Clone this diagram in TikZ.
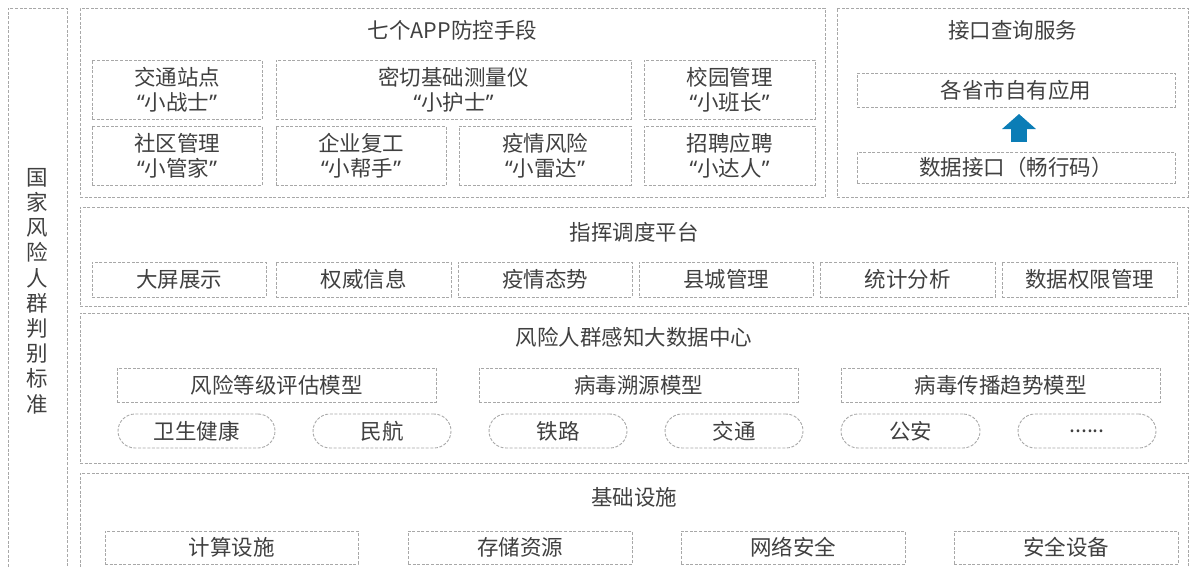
\documentclass[tikz,border=0pt]{standalone}
\usepackage{fontspec}
\setmainfont{Noto Sans CJK SC}
\newfontfamily\qf{Noto Sans}
\usetikzlibrary{arrows.meta}
\definecolor{txt}{HTML}{404040}
\definecolor{dashc}{HTML}{A8A8A8}
\definecolor{arr}{HTML}{0B7DB6}
\newcommand\q[1]{{\qf “}#1{\qf ”}}
\newcommand\mkbox[7][dbox]{\node[#1, anchor=north west, minimum width={#5pt-#3pt}, minimum height={#6pt-#4pt}] (#2) at (#3,#4) {#7};}
\tikzset{
  dbox/.style={draw=dashc, dash pattern=on 3pt off 1.6pt, line width=0.9pt, inner sep=0pt, outer sep=0pt,
    text=txt, align=center, font=\fontsize{21.5}{25}\selectfont},
  pill/.style={dbox, rounded corners=17pt},
  ttl/.style={text=txt, font=\fontsize{21.5}{25}\selectfont, inner sep=0pt},
  blockarrow/.style={draw=arr, line width=16pt, -{Triangle[width=33pt,length=15pt]}}
}
\begin{document}
\begin{tikzpicture}[x=1pt,y=-1pt]
\clip (0,0) rectangle (1191,566);
% left column
\mkbox{left}{8}{8}{67}{590}{}
\node[ttl, align=center, font=\fontsize{21.5}{25.2}\selectfont] (lefttxt) at (37.5,291) {国\\家\\风\\险\\人\\群\\判\\别\\标\\准};
% section 1
\mkbox{secA}{80}{8}{825}{197}{}
\node[ttl] (secAt) at (452.5,30) {七个APP防控手段};
\mkbox{jt}{92}{60}{262}{119}{交通站点\\\q{小战士}}
\mkbox{mq}{276}{60}{631}{119}{密切基础测量仪\\\q{小护士}}
\mkbox{xy}{644}{60}{815}{119}{校园管理\\\q{小班长}}
\mkbox{sq}{92}{126}{262}{185}{社区管理\\\q{小管家}}
\mkbox{qy}{276}{126}{446}{185}{企业复工\\\q{小帮手}}
\mkbox{yq}{459}{126}{631}{185}{疫情风险\\\q{小雷达}}
\mkbox{zp}{644}{126}{815}{185}{招聘应聘\\\q{小达人}}
% right section
\mkbox{secR}{837}{8}{1188}{197}{}
\node[ttl] (secRt) at (1012.5,30) {接口查询服务};
\mkbox{app}{857}{73}{1175}{107}{各省市自有应用}
\mkbox{api}{857}{152}{1175}{183}{数据接口（畅行码）}
\draw[blockarrow, shorten <=10pt, shorten >=7pt] ([xshift=3pt]api.north) -- ([xshift=3pt]app.south);
% section 2
\mkbox{secB}{80}{207}{1188}{306}{}
\node[ttl] (secBt) at (634,232) {指挥调度平台};
\mkbox{b1}{92}{262}{266}{297}{大屏展示}
\mkbox{b2}{276}{262}{451}{297}{权威信息}
\mkbox{b3}{458}{262}{632}{297}{疫情态势}
\mkbox{b4}{639}{262}{813}{297}{县城管理}
\mkbox{b5}{820}{262}{995}{297}{统计分析}
\mkbox{b6}{1002}{262}{1177}{297}{数据权限管理}
% section 3
\mkbox{secC}{80}{313}{1188}{463}{}
\node[ttl] (secCt) at (634,337) {风险人群感知大数据中心};
\mkbox{m1}{117}{368}{436}{402}{风险等级评估模型}
\mkbox{m2}{479}{368}{798}{402}{病毒溯源模型}
\mkbox{m3}{841}{368}{1160}{402}{病毒传播趋势模型}
\mkbox[pill]{p1}{118}{414}{275}{448}{卫生健康}
\mkbox[pill]{p2}{313}{414}{451}{448}{民航}
\mkbox[pill]{p3}{489}{414}{627}{448}{铁路}
\mkbox[pill]{p4}{665}{414}{803}{448}{交通}
\mkbox[pill]{p5}{841}{414}{980}{448}{公安}
\mkbox[pill]{p6}{1018}{414}{1156}{448}{......}
% section 4
\mkbox{secD}{80}{473}{1188}{590}{}
\node[ttl] (secDt) at (634,497) {基础设施};
\mkbox{d1}{105}{531}{358}{564}{计算设施}
\mkbox{d2}{408}{531}{632}{564}{存储资源}
\mkbox{d3}{681}{531}{905}{564}{网络安全}
\mkbox{d4}{954}{531}{1178}{564}{安全设备}
\end{tikzpicture}
\end{document}
